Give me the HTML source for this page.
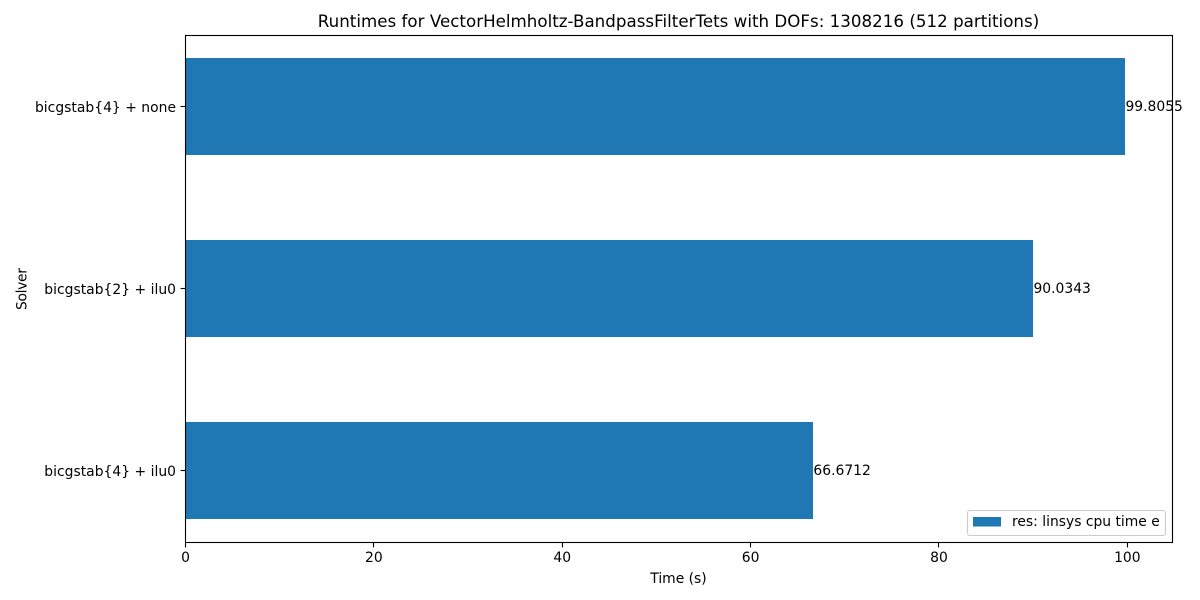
<!DOCTYPE html>
<html lang="en">
<head>
<meta charset="utf-8">
<title>Runtimes chart</title>
<style>
html,body{margin:0;padding:0;background:#fff;width:1200px;height:600px;overflow:hidden}
svg{display:block}
text{font-family:"DejaVu Sans",sans-serif;font-size:13.89px;fill:#000}
</style>
</head>
<body>
<svg id="chart" xmlns="http://www.w3.org/2000/svg" width="1200" height="600" viewBox="0 0 1200 600"></svg>
<script>
const categories = ["bicgstab{4} + ilu0", "bicgstab{2} + ilu0", "bicgstab{4} + none"];
const runtimes = [66.6712, 90.0343, 99.8055];
const valueLabels = ["66.6712", "90.0343", "99.8055"];
const xTicks = [0, 20, 40, 60, 80, 100];
const xMax = 104.796;

const plotLeft = 185.5, plotRight = 1172.5, plotTop = 35.5, plotBottom = 542.5;
const bandStep = 182, bandHeight = 97, firstBandCenter = 470.5;

function xScale(v) { return plotLeft + (v / xMax) * (plotRight - plotLeft); }
function yScale(i) { return firstBandCenter - i * bandStep; }

const svg = document.getElementById('chart');
function add(tag, attrs, parent) {
  const el = document.createElementNS('http://www.w3.org/2000/svg', tag);
  for (const k in attrs) el.setAttribute(k, attrs[k]);
  (parent || svg).appendChild(el);
  return el;
}
function widen(el, extra) {
  el.setAttribute('textLength', el.getComputedTextLength() + extra);
}

// background
const bg = add('rect', {x: 0, y: 0, width: 1200, height: 600, fill: '#fff'});



// bars
runtimes.forEach((v, i) => {
  const c = yScale(i);
  const bar = add('rect', {x: plotLeft - 0.5, y: c - bandHeight / 2, width: Math.floor(xScale(v)) - plotLeft + 0.5, height: bandHeight, fill: '#1f77b4'});
  
  
});

// frame
const frame = add('rect', {x: plotLeft, y: plotTop, width: plotRight - plotLeft, height: plotBottom - plotTop, fill: 'none', stroke: '#000', 'stroke-width': 1.1});



// x ticks
xTicks.forEach(t => {
  const x = Math.round(xScale(t) - 0.5) + 0.5;
  const tick = add('line', {x1: x, x2: x, y1: plotBottom, y2: plotBottom + 4.9, stroke: '#000', 'stroke-width': 1.1});
  
  
  const lab = add('text', {x: xScale(t), y: 562, 'text-anchor': 'middle'});
  lab.textContent = String(t);
  
  
});

// y ticks and labels
categories.forEach((name, i) => {
  const y = yScale(i);
  const tick = add('line', {x1: plotLeft - 4.9, x2: plotLeft, y1: y, y2: y, stroke: '#000', 'stroke-width': 1.1});
  
  
  const lab = add('text', {x: 176, y: y + 5.5, 'text-anchor': 'end'});
  lab.textContent = name;
  widen(lab, 0.4);
  
  
});

// value labels
valueLabels.forEach((s, i) => {
  const lab = add('text', {x: xScale(runtimes[i]), y: yScale(i) + 4.5});
  lab.textContent = s;
  
  
});

// title
const title = add('text', {x: 678.5, y: 27, 'text-anchor': 'middle', style: 'font-size:16.67px'});
title.textContent = 'Runtimes for VectorHelmholtz-BandpassFilterTets with DOFs: 1308216 (512 partitions)';
widen(title, 2);



// axis titles
const xTitle = add('text', {x: 678.5, y: 583, 'text-anchor': 'middle'});
xTitle.textContent = 'Time (s)';



const yTitle = add('text', {x: 0, y: 0, 'text-anchor': 'middle', transform: 'translate(26.5,289) rotate(-90)'});
yTitle.textContent = 'Solver';
yTitle.setAttribute('textLength', 42);



// legend
const legend = add('g', {});


const legendBox = add('rect', {x: 967.5, y: 510.5, width: 198, height: 25, rx: 2.5, ry: 2.5, fill: '#fff', 'fill-opacity': 0.8, stroke: '#ccc', 'stroke-width': 1.1}, legend);


const legendSwatch = add('rect', {x: 973, y: 517, width: 28, height: 9.5, fill: '#1f77b4'}, legend);


const legendText = add('text', {x: 1012, y: 526}, legend);
legendText.textContent = 'res: linsys cpu time e';


</script>
</body>
</html>
